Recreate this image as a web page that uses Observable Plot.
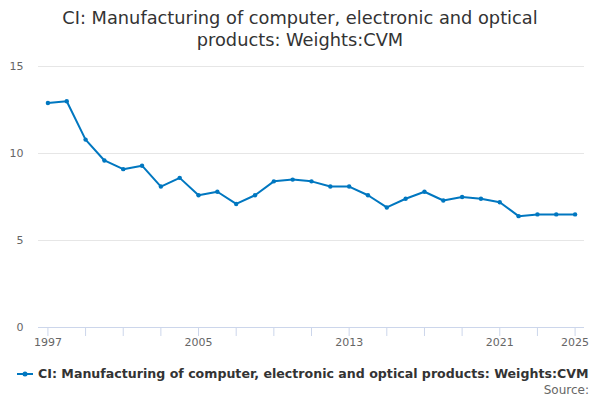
<!DOCTYPE html>
<html>
<head>
<meta charset="utf-8">
<script src="https://cdn.jsdelivr.net/npm/d3@7"></script>
<script src="https://cdn.jsdelivr.net/npm/@observablehq/plot@0.6"></script>
<style>
  html, body { margin: 0; padding: 0; background: #fff; }
  body { width: 600px; height: 400px; position: relative; overflow: hidden; font-family: "DejaVu Sans", sans-serif; }
  #title { position: absolute; top: 7px; left: 0; width: 600px; text-align: center; font-size: 17.8px; line-height: 22px; color: #333; }
  #chart { position: absolute; top: 50px; left: 0; }
  #legend { position: absolute; top: 366px; left: 17px; font-size: 12.6px; font-weight: bold; color: #333; display: flex; align-items: center; white-space: nowrap; }
  #source { position: absolute; top: 383px; right: 11px; font-size: 12px; color: #666; }
</style>
</head>
<body>
<div id="title">CI: Manufacturing of computer, electronic and optical<br>products: Weights:CVM</div>
<div id="chart"></div>
<div id="legend"><svg width="21" height="12"><line x1="0" y1="6" x2="16" y2="6" stroke="#0077c0" stroke-width="2"/><circle cx="8" cy="6" r="2.5" fill="#0077c0"/></svg><span>CI: Manufacturing of computer, electronic and optical products: Weights:CVM</span></div>
<div id="source">Source:</div>
<script>
const years = [1997,1998,1999,2000,2001,2002,2003,2004,2005,2006,2007,2008,2009,2010,2011,2012,2013,2014,2015,2016,2017,2018,2019,2020,2021,2022,2023,2024,2025];
const values = [12.9,13.0,10.8,9.6,9.1,9.3,8.1,8.6,7.6,7.8,7.1,7.6,8.4,8.5,8.4,8.1,8.1,7.6,6.9,7.4,7.8,7.3,7.5,7.4,7.2,6.4,6.5,6.5,6.5];
const xTicks = [1997,1999,2001,2003,2005,2007,2009,2011,2013,2015,2017,2019,2021,2023,2025];
const xLabels = [1997,2005,2013,2021,2025];
const yTicks = [0,5,10,15];
const color = "#0077c0";

const data = years.map((y, i) => ({year: y, value: values[i]}));

const chart = Plot.plot({
  width: 600,
  height: 300,
  marginTop: 16,
  marginBottom: 23,
  marginLeft: 38,
  marginRight: 16,
  style: {fontFamily: "DejaVu Sans, sans-serif", fontSize: "11px", background: "#fff"},
  x: {domain: [1996.5, 2025.5]},
  y: {domain: [0, 15]},
  marks: [
    Plot.gridY(yTicks, {stroke: "#e6e6e6", strokeOpacity: 1}),
    Plot.axisY(yTicks, {tickSize: 0, tickPadding: 15, fill: "#666", label: null, fontSize: 11}),
    Plot.axisX(xTicks, {tickSize: 9, stroke: "#ccd6eb", strokeOpacity: 1, fill: "#666", tickPadding: 2, label: null, fontSize: 11,
      tickFormat: d => xLabels.includes(d) ? String(d) : ""}),
    Plot.ruleY([0], {stroke: "#ccd6eb"}),
    Plot.line(data, {x: "year", y: "value", stroke: color, strokeWidth: 2}),
    Plot.dot(data, {x: "year", y: "value", fill: color, r: 2.2})
  ]
});
document.getElementById("chart").appendChild(chart);
</script>
</body>
</html>
